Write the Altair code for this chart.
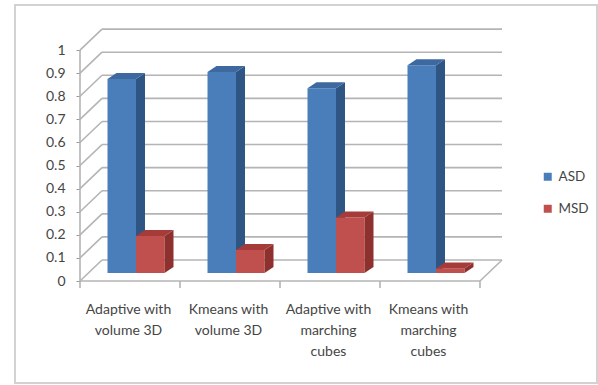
import json
import altair as alt
import pandas as pd

# ---------------- data ----------------
categories = [
    "Adaptive with volume 3D",
    "Kmeans with volume 3D",
    "Adaptive with marching cubes",
    "Kmeans with marching cubes",
]
category_lines = [
    ["Adaptive with", "volume 3D"],
    ["Kmeans with", "volume 3D"],
    ["Adaptive with", "marching", "cubes"],
    ["Kmeans with", "marching", "cubes"],
]
series = ["ASD", "MSD"]
asd_values = [0.84, 0.87, 0.80, 0.90]
msd_values = [0.16, 0.10, 0.24, 0.02]
y_ticks = [0, 0.1, 0.2, 0.3, 0.4, 0.5, 0.6, 0.7, 0.8, 0.9, 1.0]

# ---------------- style / 3D geometry ----------------
PXX = 0.01          # one pixel in x data units (100 px per category)
PXY = 1 / 231.0     # one pixel in y data units
WALL_DX, WALL_DY = 22 * PXX, 21 * PXY
BAR_LEFT, BAR_W = 0.275, 0.285
BAR_BASE = 8 * PXY
DEP_X, DEP_Y = 9 * PXX, 6 * PXY
front_colors = ["#4A7EBB", "#C0504D"]
side_colors = ["#2E5584", "#8E302D"]
top_colors = ["#3D69A0", "#A53C39"]
LINE = "#B4B4B4"
FONT = "Lato"
TXT = "#454545"
n = len(categories)

values = {"ASD": asd_values, "MSD": msd_values}

front_rows, side_rows, top_rows = [], [], []
for s, name in enumerate(series):
    for i, v in enumerate(values[name]):
        L = i + BAR_LEFT + s * BAR_W
        R = L + BAR_W
        y0, y1 = BAR_BASE, BAR_BASE + v
        bid = f"{name}-{i}"
        front_rows.append(dict(series=name, category=categories[i], value=v,
                               x=L, x2=R, y=y0, y2=y1))
        side_rows += [
            dict(series=name, bar=bid, x=R, y=y1, y2=y0),
            dict(series=name, bar=bid, x=R + DEP_X, y=y1 + DEP_Y, y2=y0 + DEP_Y),
        ]
        top_rows += [
            dict(series=name, bar=bid, y=y1, x=L, x2=R),
            dict(series=name, bar=bid, y=y1 + DEP_Y, x=L + DEP_X, x2=R + DEP_X),
        ]
front_df = pd.DataFrame(front_rows)
side_df = pd.DataFrame(side_rows)
top_df = pd.DataFrame(top_rows)

# frame lines: back-wall gridlines, diagonals, front axis, floor, category ticks
seg = []
for v in y_ticks:
    seg.append(dict(x=WALL_DX, x2=n + WALL_DX, y=v + WALL_DY, y2=v + WALL_DY))
    seg.append(dict(x=0, x2=WALL_DX, y=v, y2=v + WALL_DY))
seg.append(dict(x=0, x2=0, y=0, y2=max(y_ticks)))
seg.append(dict(x=0, x2=n, y=0, y2=0))
seg.append(dict(x=n, x2=n + WALL_DX, y=0, y2=WALL_DY))
for i in range(n + 1):
    seg.append(dict(x=i, x2=i, y=0, y2=-7 * PXY))
seg_df = pd.DataFrame(seg)

xs = alt.Scale(domain=[0, n + WALL_DX], nice=False, zero=False)
ys = alt.Scale(domain=[0, 1.1], nice=False, zero=False)

label_pos = [i + 0.48 for i in range(n)]
label_expr = f"{json.dumps(category_lines)}[round(datum.value - 0.48)]"

x_axis = alt.Axis(values=label_pos, labelExpr=label_expr, title=None, domain=False,
                  grid=False, ticks=False, tickSize=0, labelPadding=21,
                  labelLineHeight=21, labelFont=FONT, labelFontSize=14,
                  labelColor=TXT, labelOverlap=False, labelFlush=False)
y_axis = alt.Axis(values=y_ticks, format="~g", title=None, domain=False, grid=False,
                  tickSize=4, tickColor="#9A9A9A", labelPadding=11, labelFont=FONT,
                  labelFontSize=14, labelColor=TXT, labelFlush=False,
                  labelOverlap=False)

border = alt.Chart(pd.DataFrame({"a": [0]})).mark_rect(
    fillOpacity=0, stroke="#D2D2D2", strokeWidth=2
).encode(x=alt.value(-65), x2=alt.value(517), y=alt.value(-22), y2=alt.value(356))

frame = alt.Chart(seg_df).mark_rule(color=LINE, strokeWidth=1.6).encode(
    x=alt.X("x:Q", scale=xs, axis=x_axis),
    x2="x2:Q",
    y=alt.Y("y:Q", scale=ys, axis=y_axis),
    y2="y2:Q",
)

legend = alt.Legend(title=None, orient="none", legendX=461, legendY=143,
                    symbolType="square", symbolSize=64, symbolStrokeWidth=0,
                    labelFont=FONT, labelFontSize=13.5, labelColor=TXT,
                    rowPadding=17, labelOffset=4)

layers = [border, frame]
for s, name in enumerate(series):
    front = alt.Chart(front_df[front_df.series == name]).mark_rect().encode(
        x=alt.X("x:Q", scale=xs, axis=x_axis),
        x2="x2:Q",
        y=alt.Y("y:Q", scale=ys, axis=y_axis),
        y2="y2:Q",
        color=alt.Color("series:N", scale=alt.Scale(domain=series, range=front_colors),
                        legend=legend),
    )
    side = alt.Chart(side_df[side_df.series == name]).mark_area(
        orient="vertical", color=side_colors[s]
    ).encode(
        x=alt.X("x:Q", scale=xs, axis=x_axis),
        y=alt.Y("y:Q", scale=ys, axis=y_axis, stack=None),
        y2="y2:Q",
        detail="bar:N",
    )
    top = alt.Chart(top_df[top_df.series == name]).mark_area(
        orient="horizontal", color=top_colors[s]
    ).encode(
        y=alt.Y("y:Q", scale=ys, axis=y_axis),
        x=alt.X("x:Q", scale=xs, axis=x_axis, stack=None),
        x2="x2:Q",
        detail="bar:N",
    )
    layers += [front, side, top]

chart = alt.layer(*layers).properties(
    width=422,
    height=254,
    autosize=alt.AutoSizeParams(type="none"),
    padding={"left": 80, "top": 27, "right": 96, "bottom": 104},
    background="white",
).configure_view(strokeWidth=0)

chart.save("out.html", embed_options={"renderer": "svg", "actions": False})
